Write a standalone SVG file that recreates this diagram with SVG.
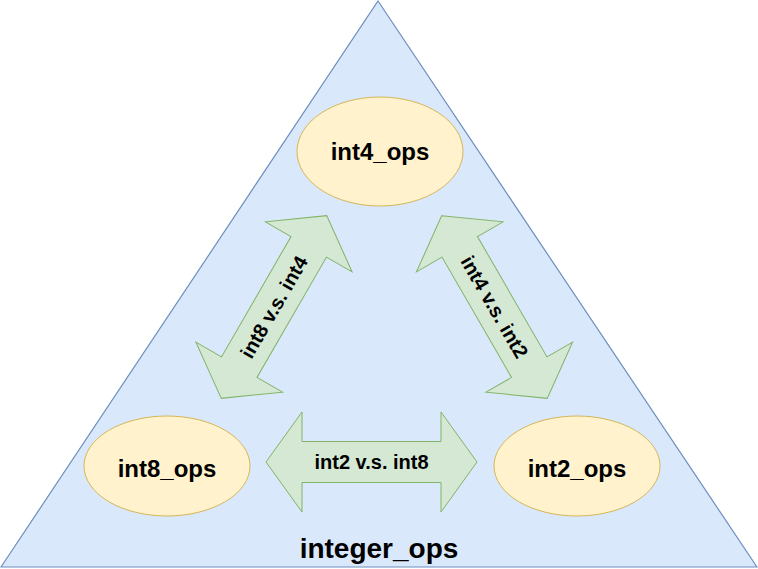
<svg xmlns="http://www.w3.org/2000/svg" width="758" height="569" viewBox="0 0 758 569">
<style>
.tri{fill:#dae8fc;stroke:#6c8ebf;stroke-width:1.2}
.ell{fill:#fff2cc;stroke:#d6b656;stroke-width:1}
.arr{fill:#d5e8d4;stroke:#82b366;stroke-width:1}
.t{font-family:"Liberation Sans",Arial,Helvetica,sans-serif;font-weight:bold;fill:#000;text-anchor:middle}
.tn{font-size:24px}
.ta{font-size:20px}
.tb{font-size:28px}
</style>
<defs>
<path id="dblarrow" class="arr" d="M -105.5 0 L -69.5 -50 L -69.5 -20.5 L 69.5 -20.5 L 69.5 -50 L 105.5 0 L 69.5 50 L 69.5 20.5 L -69.5 20.5 L -69.5 50 Z"/>
</defs>
<g id="integer_ops">
<polygon class="tri" points="378,1 757,567 1,567"/>
<text class="t tb" x="379" y="558">integer_ops</text>
</g>
<g id="connectors">
<g id="arrow-int8-int4" transform="translate(274,307) rotate(-60)">
<use href="#dblarrow"/>
<text class="t ta" x="0" y="7">int8 v.s. int4</text>
</g>
<g id="arrow-int4-int2" transform="translate(494.5,307) rotate(60)">
<use href="#dblarrow"/>
<text class="t ta" x="0" y="7">int4 v.s. int2</text>
</g>
<g id="arrow-int2-int8" transform="translate(371.5,462)">
<use href="#dblarrow"/>
<text class="t ta" x="0" y="7">int2 v.s. int8</text>
</g>
</g>
<g id="int4_ops">
<ellipse class="ell" cx="380" cy="151.5" rx="83" ry="54.5"/>
<text class="t tn" x="380" y="159.5">int4_ops</text>
</g>
<g id="int8_ops">
<ellipse class="ell" cx="167" cy="466" rx="83" ry="50"/>
<text class="t tn" x="167" y="477">int8_ops</text>
</g>
<g id="int2_ops">
<ellipse class="ell" cx="577" cy="466" rx="83" ry="50"/>
<text class="t tn" x="577" y="477">int2_ops</text>
</g>
</svg>
